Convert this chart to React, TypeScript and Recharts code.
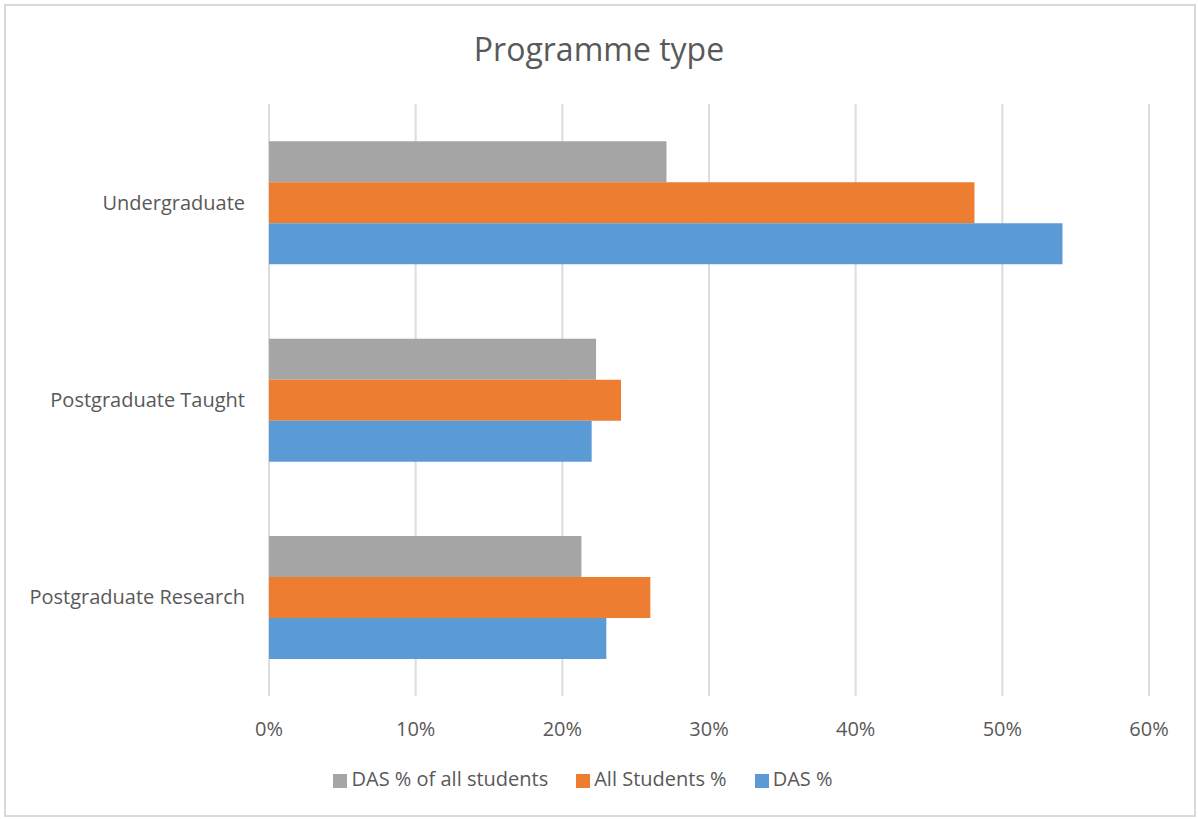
import React from 'react'
import { BarChart, Bar, XAxis, YAxis, CartesianGrid, Legend } from 'recharts'

const categories = ['Undergraduate', 'Postgraduate Taught', 'Postgraduate Research']
const dasOfAll = [27.1, 22.3, 21.3]
const allStudents = [48.1, 24.0, 26.0]
const das = [54.1, 22.0, 23.0]
const xTicks = [0, 10, 20, 30, 40, 50, 60]

const data = categories.map((name, i) => ({
    name,
    dasOfAll: dasOfAll[i],
    allStudents: allStudents[i],
    das: das[i],
}))

const font = '"Open Sans", sans-serif'
const textColor = '#595959'

const App = () => {
    return (
        <div
            style={{
                position: 'absolute',
                left: 0,
                top: 0,
                width: 1198,
                height: 819,
                background: '#fff',
                fontFamily: font,
            }}
        >
            <div
                style={{
                    position: 'absolute',
                    left: 4,
                    top: 4,
                    width: 1188,
                    height: 809,
                    border: '2px solid #d9d9d9',
                }}
            />
            <div
                style={{
                    position: 'absolute',
                    left: 0,
                    width: 1198,
                    top: 27,
                    textAlign: 'center',
                    fontSize: 32,
                    lineHeight: '44px',
                    color: textColor,
                }}
            >
                Programme type
            </div>
            <BarChart
                width={1198}
                height={819}
                data={data}
                layout="vertical"
                margin={{ top: 104, right: 49, bottom: 10, left: 5 }}
                barCategoryGap="18.9%"
                barGap={0}
            >
                <CartesianGrid horizontal={false} stroke="#dcdcdc" strokeWidth={2} />
                <XAxis
                    type="number"
                    domain={[0, 60]}
                    ticks={xTicks}
                    tickFormatter={(v) => `${v}%`}
                    axisLine={false}
                    tickLine={false}
                    tickMargin={20}
                    height={69}
                    tick={{ fill: textColor, fontSize: 20, fontFamily: font }}
                />
                <YAxis
                    type="category"
                    dataKey="name"
                    width={264}
                    axisLine={false}
                    tickLine={false}
                    tickMargin={18}
                    tick={{ fill: textColor, fontSize: 20, fontFamily: font }}
                />
                <Legend
                    verticalAlign="bottom"
                    iconType="square"
                    iconSize={14}
                    itemSorter={null as any}
                    wrapperStyle={{ height: 44, left: 25, fontSize: 20, fontFamily: font, color: textColor }}
                    formatter={(value) => <span style={{ color: textColor, marginRight: 18 }}>{value}</span>}
                />
                <Bar dataKey="dasOfAll" name="DAS % of all students" fill="#a5a5a5" isAnimationActive={false} />
                <Bar dataKey="allStudents" name="All Students %" fill="#ed7d31" isAnimationActive={false} />
                <Bar dataKey="das" name="DAS %" fill="#5b9bd5" isAnimationActive={false} />
            </BarChart>
        </div>
    )
}

export default App
